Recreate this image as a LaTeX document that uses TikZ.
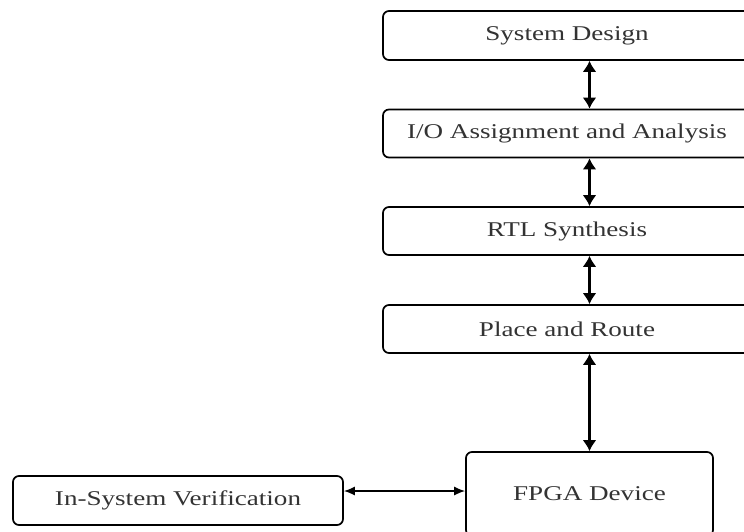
\documentclass[tikz,border=0pt]{standalone}
\usepackage{fontspec}
\setmainfont{Liberation Serif}[FakeStretch=1.29]
\usetikzlibrary{arrows.meta}

\begin{document}
\begin{tikzpicture}[x=1pt,y=-1pt]

      % Style for every box of the flow; the stack boxes run off the right edge
      \tikzstyle{stage}=[draw,rounded corners=6pt,line width=1.7pt,text=black!80,
                         font=\fontsize{21}{25}\selectfont,inner sep=0pt]
      \tikzstyle{link}=[line width=2.3pt,{Latex[length=11pt,width=14pt]}-{Latex[length=11pt,width=14pt]}]
      \tikzstyle{sidelink}=[line width=1.5pt,{Latex[length=11pt,width=9pt]}-{Latex[length=11pt,width=9pt]}]

      % Define dimensions
      \def\sw{368}     % Width of the stack boxes
      \def\sh{48}      % Height of the stack boxes
      \def\sx{567}     % Centre of the stack boxes

      \clip (0,0) rectangle (744,531);

      % Boxes
      \node[stage,minimum width=\sw,minimum height=49] (sysdesign) at (\sx,35.5) {System Design};
      \node[stage,minimum width=\sw,minimum height=\sh] (ioassign) at (\sx,133.5) {I/O Assignment and Analysis};
      \node[stage,minimum width=\sw,minimum height=\sh] (rtl) at (\sx,231) {RTL Synthesis};
      \node[stage,minimum width=\sw,minimum height=\sh] (pnr) at (\sx,329) {Place and Route};

      \node[stage,minimum width=247,minimum height=84] (fpga) at (589.5,494) {FPGA Device};
      \node[stage,minimum width=330,minimum height=49] (isv) at (178,500.5) {In-System Verification};

      % Arrows, all on the line through the middle of the FPGA box
      \draw[link] (sysdesign.south -| fpga.north) -- (ioassign.north -| fpga.north);
      \draw[link] (ioassign.south -| fpga.north) -- (rtl.north -| fpga.north);
      \draw[link] (rtl.south -| fpga.north) -- (pnr.north -| fpga.north);
      \draw[link] (pnr.south -| fpga.north) -- (fpga.north);

      \draw[sidelink] ([yshift=9.5pt]isv.east) -- ([yshift=9.5pt]isv.east -| fpga.west);

\end{tikzpicture}
\end{document}
